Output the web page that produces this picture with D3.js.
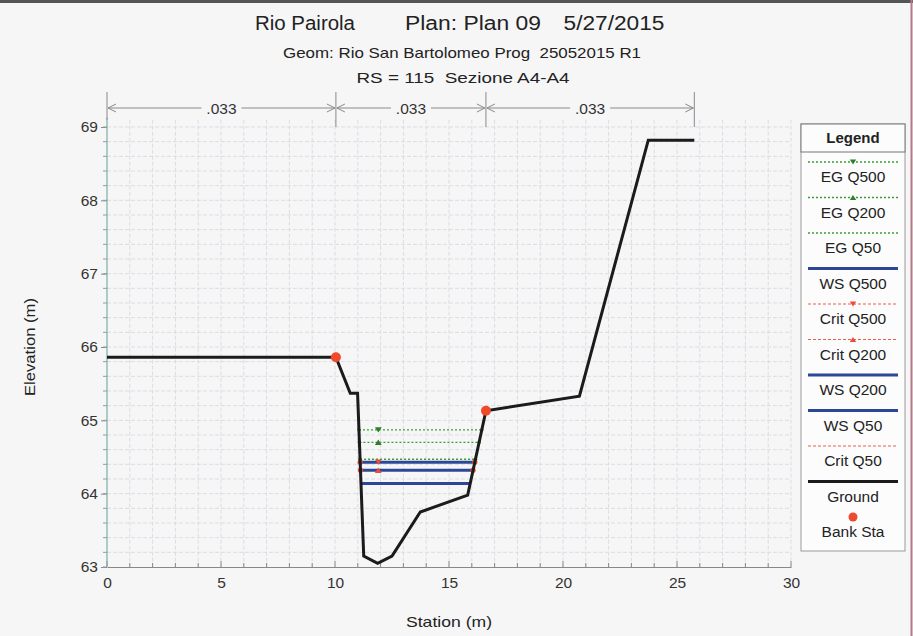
<!DOCTYPE html>
<html>
<head>
<meta charset="utf-8">
<script src="https://cdn.jsdelivr.net/npm/d3@7"></script>
<style>
  body { margin: 0; background: #f6f6f7; }
  svg { display: block; font-family: "Liberation Sans", Arial, sans-serif; }
  text { white-space: pre; }
</style>
</head>
<body>
<svg id="chart" width="913" height="636"></svg>
<script>
// ---------------- DATA ----------------
const titleParts = ["Rio Pairola", "Plan: Plan 09", "5/27/2015"];
const subtitle1 = "Geom: Rio San Bartolomeo Prog  25052015 R1";
const subtitle2 = "RS = 115  Sezione A4-A4";
const xLabel = "Station (m)";
const yLabel = "Elevation (m)";

const groundSta  = [0, 10.04, 10.67, 10.99, 11.26, 11.87, 12.50, 13.74, 15.82, 16.62, 20.72, 23.74, 25.76];
const groundElev = [65.86, 65.86, 65.37, 65.37, 63.15, 63.05, 63.15, 63.75, 63.98, 65.13, 65.33, 68.82, 68.82];
const bankSta  = [10.04, 16.62];
const bankElev = [65.86, 65.13];

const manningSta = [0, 10.04, 16.62, 25.76];
const manningN   = [".033", ".033", ".033"];

const profileNames  = ["EG Q500", "EG Q200", "EG Q50", "WS Q500", "Crit Q500", "Crit Q200", "WS Q200", "WS Q50", "Crit Q50"];
const profileElev   = [64.87, 64.70, 64.47, 64.43, 64.43, 64.32, 64.32, 64.14, 64.14];
const profileKind   = ["EG", "EG", "EG", "WS", "Crit", "Crit", "WS", "WS", "Crit"];
const profileMarker = ["down", "up", "", "", "down", "up", "", "", ""];
const markerSta = 11.9;

const xTicks = [0, 5, 10, 15, 20, 25, 30];
const yTicks = [63, 64, 65, 66, 67, 68, 69];

// ---------------- SETUP ----------------
const svg = d3.select("#chart");
const x = d3.scaleLinear().domain([0, 30]).range([107, 791]);
const y = d3.scaleLinear().domain([63, 69]).range([567, 127]);
const yTop = 69.1;

const styles = {
  EG:   { stroke: "#3f9a3a", width: 1.4, dash: "2,2" },
  WS:   { stroke: "#2c4796", width: 3, dash: null },
  Crit: { stroke: "#e8604c", width: 1, dash: "3,2" }
};

// frame
svg.append("rect").attr("x", 0).attr("y", 0).attr("width", 913).attr("height", 636).attr("fill", "#f6f6f7");
svg.append("line").attr("x1", 0).attr("x2", 913).attr("y1", 1.5).attr("y2", 1.5).attr("stroke", "#555").attr("stroke-width", 3);
svg.append("line").attr("x1", 911.5).attr("x2", 911.5).attr("y1", 0).attr("y2", 636).attr("stroke", "#b07c88").attr("stroke-width", 2);

// grid
const grid = svg.append("g");
grid.selectAll(".vg").data(d3.range(1, 31)).enter().append("line")
  .attr("x1", d => x(d)).attr("x2", d => x(d))
  .attr("y1", y(yTop)).attr("y2", y(63))
  .attr("stroke", "#dadde4").attr("stroke-width", 1).attr("stroke-dasharray", "4,2");
grid.selectAll(".hg").data(d3.range(1, 31).map(i => 63 + i * 0.2)).enter().append("line")
  .attr("x1", x(0)).attr("x2", x(30))
  .attr("y1", d => y(d)).attr("y2", d => y(d))
  .attr("stroke", "#dadde4").attr("stroke-width", 1).attr("stroke-dasharray", "4,2");

// axes
const xAxis = d3.axisBottom(x).tickValues(xTicks).tickSize(0).tickPadding(10).tickFormat(d3.format("d"));
const gx = svg.append("g").attr("transform", `translate(0,${y(63)})`).call(xAxis);
gx.select(".domain").attr("stroke", "#888");
gx.selectAll("text").attr("font-size", 15.5).attr("fill", "#333").attr("font-family", "Liberation Sans, Arial");
svg.append("g").selectAll("line").data(d3.range(0, 31)).enter().append("line")
  .attr("x1", d => x(d)).attr("x2", d => x(d))
  .attr("y1", y(63)).attr("y2", d => y(63) - (d % 5 === 0 ? 6 : 4))
  .attr("stroke", "#888");

const yAxis = d3.axisLeft(y).tickValues(yTicks).tickSize(6).tickPadding(3).tickFormat(d3.format("d"));
const gy = svg.append("g").attr("transform", `translate(${x(0)},0)`).call(yAxis);
gy.select(".domain").remove();
gy.selectAll("line").attr("stroke", "#888");
gy.selectAll("text").attr("font-size", 15.5).attr("fill", "#333").attr("font-family", "Liberation Sans, Arial");
svg.append("g").selectAll("line").data(d3.range(0, 31).map(i => 63 + i * 0.2)).enter().append("line")
  .attr("x1", x(0)).attr("x2", x(0) - 4)
  .attr("y1", d => y(d)).attr("y2", d => y(d))
  .attr("stroke", "#999");
svg.append("line").attr("x1", x(0)).attr("x2", x(0)).attr("y1", y(yTop) - 2).attr("y2", y(63))
  .attr("stroke", "#78b0a6").attr("stroke-width", 1.2);

// titles
const titleX = [305, 473, 614];
svg.append("g").selectAll("text").data(titleParts).enter().append("text")
  .attr("x", (d, i) => titleX[i]).attr("y", 30).attr("text-anchor", "middle")
  .attr("font-size", 20).attr("fill", "#222")
  .attr("textLength", (d, i) => [100, 136, 101][i]).attr("lengthAdjust", "spacingAndGlyphs")
  .text(d => d);
svg.append("text").attr("x", 462).attr("y", 58).attr("text-anchor", "middle")
  .attr("font-size", 14.5).attr("fill", "#222").attr("textLength", 358).attr("lengthAdjust", "spacingAndGlyphs")
  .text(subtitle1);
svg.append("text").attr("x", 463).attr("y", 83).attr("text-anchor", "middle")
  .attr("font-size", 14.5).attr("fill", "#222").attr("textLength", 213).attr("lengthAdjust", "spacingAndGlyphs")
  .text(subtitle2);

// axis titles
svg.append("text").attr("x", 449).attr("y", 627).attr("text-anchor", "middle")
  .attr("font-size", 15).attr("fill", "#222").attr("textLength", 86).attr("lengthAdjust", "spacingAndGlyphs").text(xLabel);
svg.append("text").attr("transform", "translate(35,347) rotate(-90)").attr("text-anchor", "middle")
  .attr("font-size", 15).attr("fill", "#222").attr("textLength", 98).attr("lengthAdjust", "spacingAndGlyphs").text(yLabel);

// Manning's n bar
const mY = 108;
const mg = svg.append("g");
mg.selectAll(".mt").data(manningSta).enter().append("line")
  .attr("x1", d => x(d)).attr("x2", d => x(d))
  .attr("y1", 92).attr("y2", (d, i) => (i === 0 ? y(yTop) : 127))
  .attr("stroke", "#8a8a8a").attr("stroke-width", 1);
manningN.forEach((n, i) => {
  const x0 = x(manningSta[i]), x1 = x(manningSta[i + 1]);
  const xm = (x0 + x1) / 2;
  const half = 20;
  mg.append("line").attr("x1", x0 + 1).attr("x2", xm - half).attr("y1", mY).attr("y2", mY).attr("stroke", "#8a8a8a");
  mg.append("line").attr("x1", xm + half).attr("x2", x1 - 1).attr("y1", mY).attr("y2", mY).attr("stroke", "#8a8a8a");
  mg.append("path").attr("d", `M${x0 + 9},${mY - 4} L${x0 + 1},${mY} L${x0 + 9},${mY + 4}`).attr("fill", "none").attr("stroke", "#8a8a8a");
  mg.append("path").attr("d", `M${x1 - 9},${mY - 4} L${x1 - 1},${mY} L${x1 - 9},${mY + 4}`).attr("fill", "none").attr("stroke", "#8a8a8a");
  mg.append("text").attr("x", xm).attr("y", mY + 6).attr("text-anchor", "middle")
    .attr("font-size", 15.5).attr("fill", "#333").text(n);
});

// water lines: intersect with ground around the thalweg
const ground = groundSta.map((s, i) => [s, groundElev[i]]);
const minIdx = d3.minIndex(groundElev);
function crossings(elev) {
  let left = ground[0][0], right = ground[ground.length - 1][0];
  for (let i = minIdx; i > 0; i--) {
    const [s0, e0] = ground[i - 1], [s1, e1] = ground[i];
    if ((e0 - elev) * (e1 - elev) <= 0 && e0 !== e1) { left = s0 + (elev - e0) / (e1 - e0) * (s1 - s0); break; }
  }
  for (let i = minIdx; i < ground.length - 1; i++) {
    const [s0, e0] = ground[i], [s1, e1] = ground[i + 1];
    if ((e0 - elev) * (e1 - elev) <= 0 && e0 !== e1) { right = s0 + (elev - e0) / (e1 - e0) * (s1 - s0); break; }
  }
  return [left, right];
}

const tri = (type, cx, cy, s) => type === "down"
  ? `M${cx - s},${cy - s * 0.8} L${cx + s},${cy - s * 0.8} L${cx},${cy + s * 0.8} Z`
  : `M${cx - s},${cy + s * 0.8} L${cx + s},${cy + s * 0.8} L${cx},${cy - s * 0.8} Z`;

const drawOrder = [2, 0, 1, 8, 5, 4, 7, 6, 3];
const wl = svg.append("g");
const wm = svg.append("g");
drawOrder.forEach(i => {
  const st = styles[profileKind[i]];
  const [l, r] = crossings(profileElev[i]);
  const line = wl.append("line")
    .attr("x1", x(l)).attr("x2", x(r)).attr("y1", y(profileElev[i])).attr("y2", y(profileElev[i]))
    .attr("stroke", st.stroke).attr("stroke-width", st.width);
  if (st.dash) line.attr("stroke-dasharray", st.dash);
  if (profileKind[i] === "EG") {
    [l, r].forEach(s => wm.append("circle").attr("cx", x(s)).attr("cy", y(profileElev[i])).attr("r", 1.8).attr("fill", st.stroke));
  }
  if (profileKind[i] === "Crit" && profileMarker[i]) {
    [l, r].forEach(s => wm.append("circle").attr("cx", x(s)).attr("cy", y(profileElev[i])).attr("r", 2.6).attr("fill", "#ee4a36"));
  }
  if (profileMarker[i]) {
    wm.append("path").attr("d", tri(profileMarker[i], x(markerSta), y(profileElev[i]), 3.4))
      .attr("fill", profileKind[i] === "EG" ? "#2f7f2a" : "#ee4a36");
  }
});

// ground
svg.append("path").datum(ground)
  .attr("d", d3.line().x(d => x(d[0])).y(d => y(d[1])))
  .attr("fill", "none").attr("stroke", "#1b1b1b").attr("stroke-width", 3).attr("stroke-linejoin", "miter");

// bank stations
svg.append("g").selectAll("circle").data(bankSta).enter().append("circle")
  .attr("cx", d => x(d)).attr("cy", (d, i) => y(bankElev[i])).attr("r", 5).attr("fill", "#ef4a2c");

// legend
const lg = svg.append("g");
const lgX = 801, lgW = 104, lgTop = 124, lgBottom = 551;
lg.append("rect").attr("x", lgX).attr("y", lgTop).attr("width", lgW).attr("height", lgBottom - lgTop)
  .attr("fill", "#fcfcfd").attr("stroke", "#9a9a9a");
lg.append("rect").attr("x", lgX).attr("y", lgTop).attr("width", lgW).attr("height", 28)
  .attr("fill", "#fcfcfd").attr("stroke", "#777");
lg.append("text").attr("x", lgX + lgW / 2).attr("y", lgTop + 19).attr("text-anchor", "middle")
  .attr("font-size", 15).attr("font-weight", "bold").attr("fill", "#222").text("Legend");

const legendNames = profileNames.concat(["Ground", "Bank Sta"]);
const lStep = 35.5, lLine0 = 162;
legendNames.forEach((name, j) => {
  const ly = lLine0 + j * lStep;
  const x0 = 808, x1 = 898, xm = (x0 + x1) / 2;
  if (j < profileNames.length) {
    const st = styles[profileKind[j]];
    const ln = lg.append("line").attr("x1", x0).attr("x2", x1).attr("y1", ly).attr("y2", ly)
      .attr("stroke", st.stroke).attr("stroke-width", st.width);
    if (st.dash) ln.attr("stroke-dasharray", st.dash);
    if (profileMarker[j]) {
      lg.append("path").attr("d", tri(profileMarker[j], xm, ly, 3.2))
        .attr("fill", profileKind[j] === "EG" ? "#2f7f2a" : "#ee4a36");
    }
  } else if (name === "Ground") {
    lg.append("line").attr("x1", x0).attr("x2", x1).attr("y1", ly).attr("y2", ly)
      .attr("stroke", "#1b1b1b").attr("stroke-width", 3);
  } else {
    lg.append("circle").attr("cx", xm).attr("cy", ly).attr("r", 4.5).attr("fill", "#ef4a2c");
  }
  lg.append("text").attr("x", xm).attr("y", ly + 20).attr("text-anchor", "middle")
    .attr("font-size", 15.5).attr("fill", "#222").text(name);
});
</script>
</body>
</html>
